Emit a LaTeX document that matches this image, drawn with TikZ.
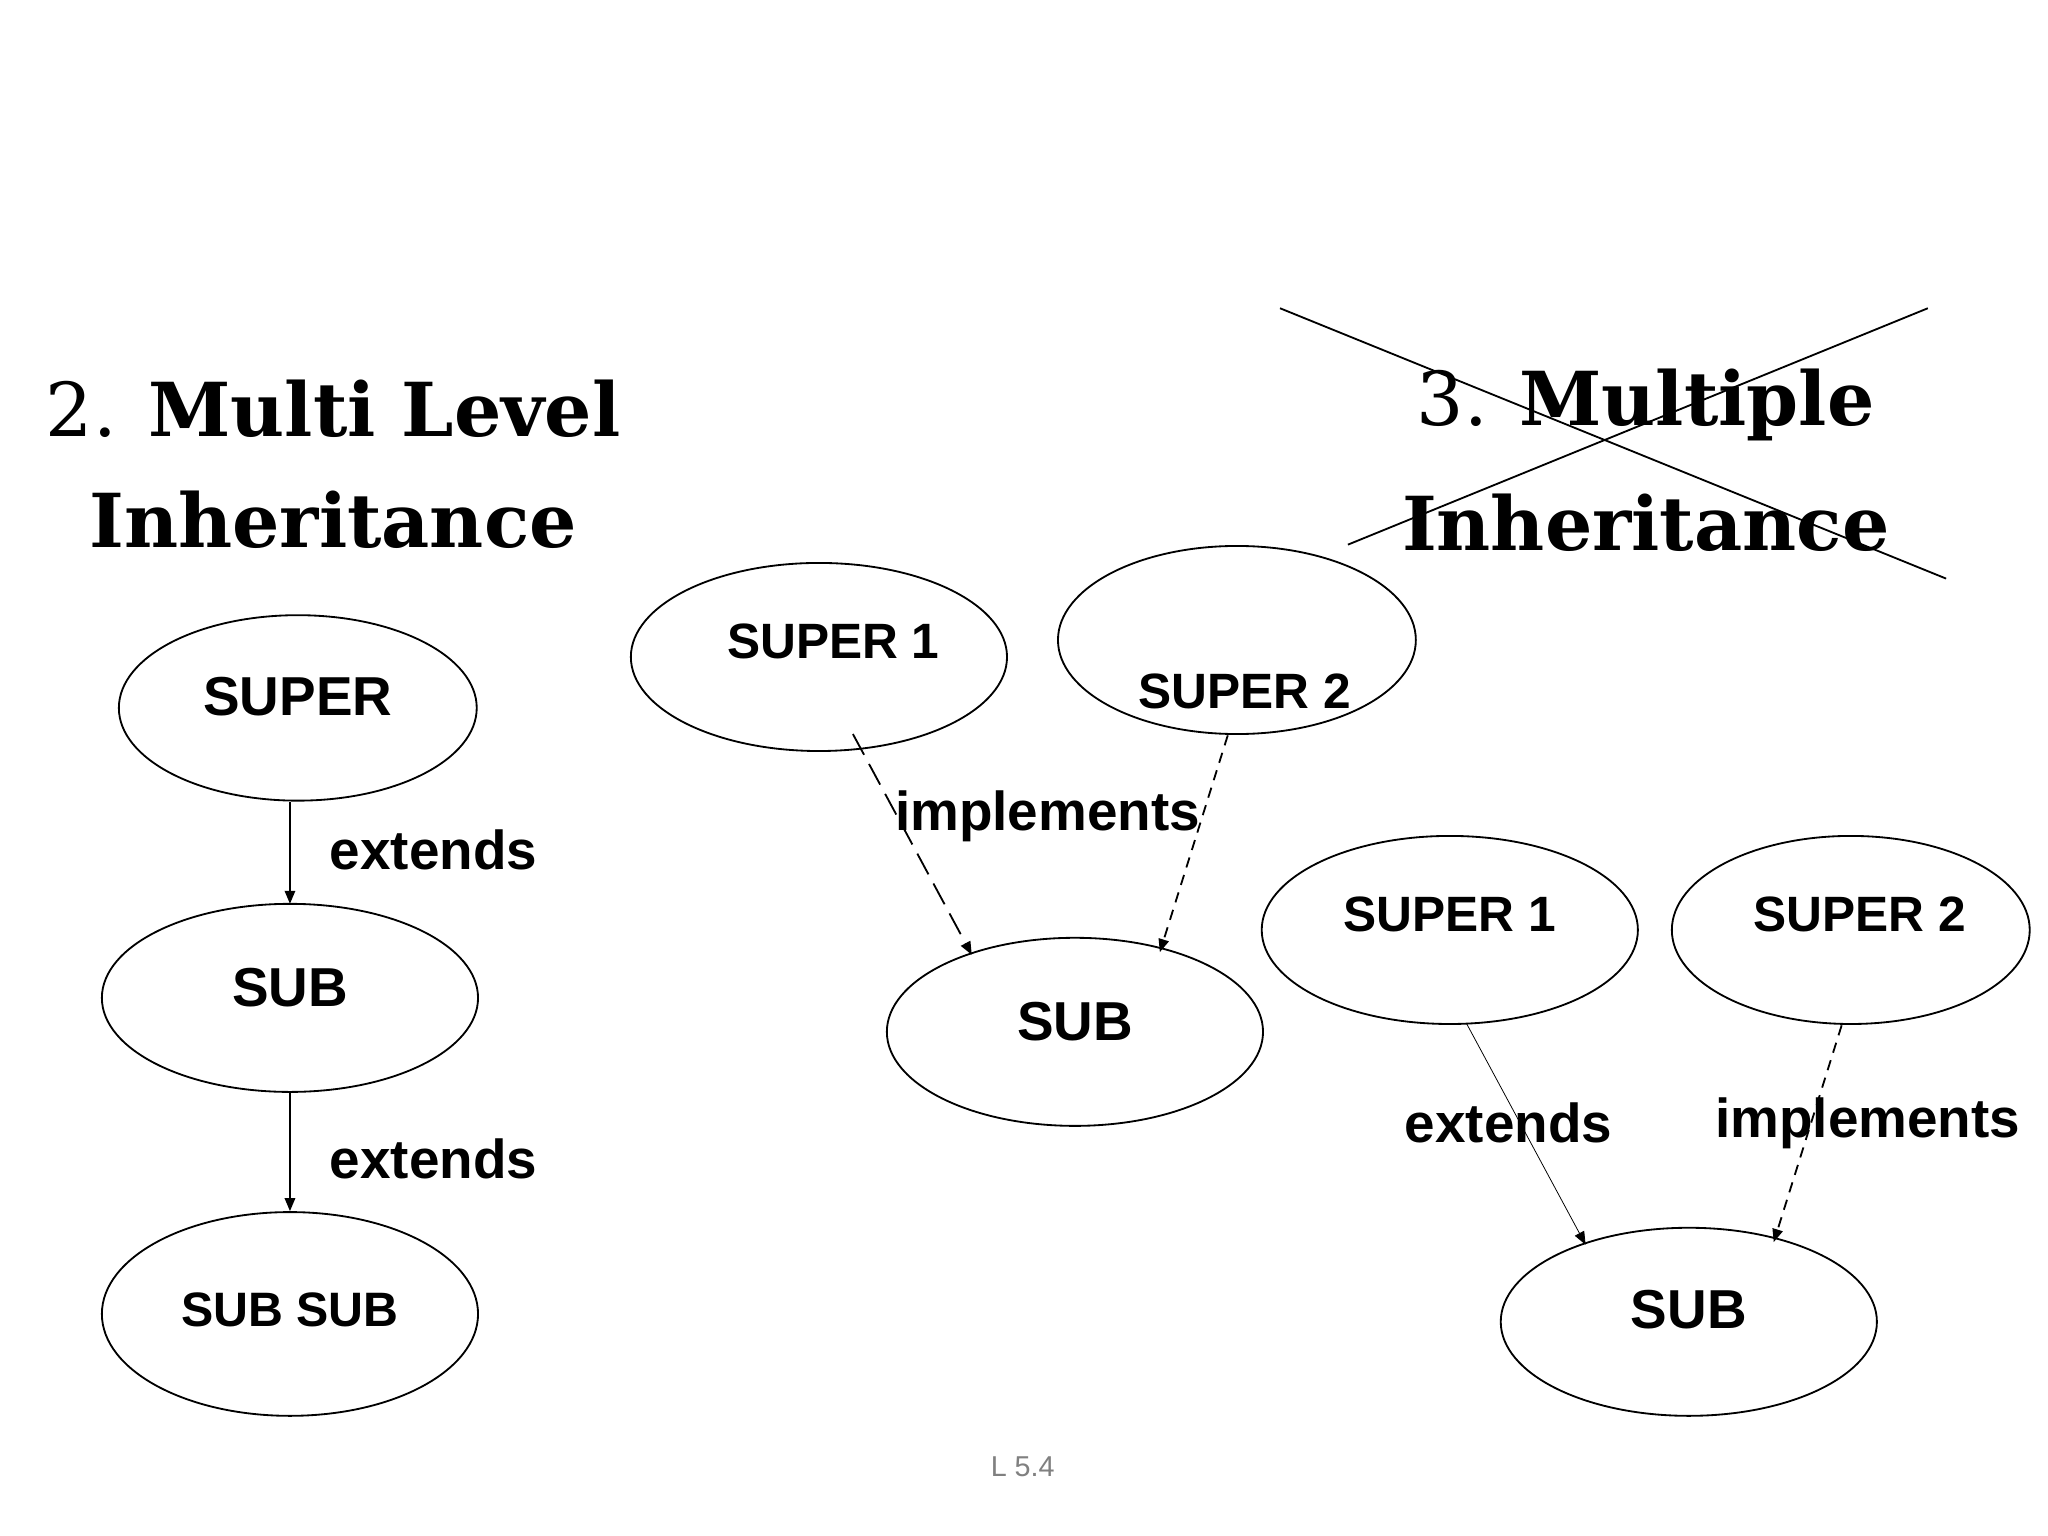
\documentclass[tikz,border=0pt]{standalone}
\usepackage{fontspec}
\setmainfont{Liberation Sans}
\newfontfamily\titlefont{DejaVu Serif}
\usetikzlibrary{shapes.geometric,arrows.meta}
\tikzset{
 ell/.style={draw,ellipse,inner sep=0pt,line width=0.7pt},
 lbl/.style={font=\fontsize{21}{24}\selectfont\bfseries},
 txt/.style={font=\fontsize{#1}{#1}\selectfont\bfseries},
 ttl/.style={font=\titlefont\fontsize{28.5}{40}\selectfont,align=center},
 arr/.style={-{Triangle[length=5pt,width=4pt]},line width=0.7pt}
}
\begin{document}
\begin{tikzpicture}[x=0.5pt,y=-0.5pt]
\useasboundingbox[fill=white] (0,0) rectangle (1568,1176);
% titles
\node[ttl] (t1) at (255,313) {2. \textbf{Multi Level}};
\node[ttl] (t1b) at (255,398) {\textbf{Inheritance}};
\node[ttl] (t2) at (1260,310) {3. \textbf{Multiple}};
\node[ttl] (t2b) at (1260,400) {\textbf{Inheritance}};
\coordinate (c1) at (980,236); \coordinate (c2) at (1490,443);
\coordinate (c3) at (1476,236); \coordinate (c4) at (1032,417);
\draw[line width=0.7pt] (c1) -- (c2); \draw[line width=0.7pt] (c3) -- (c4);
% left
\node[ell,minimum width=137pt,minimum height=71pt] (a1) at (228,542) {};
\node[ell,minimum width=144pt,minimum height=72pt] (a2) at (222,764) {};
\node[ell,minimum width=144pt,minimum height=78pt] (a3) at (222,1006) {};
\node[txt=21] (ta1) at (228,533) {SUPER};
\node[txt=21] (ta2) at (222,756) {SUB};
\node[txt=18.5] (ta3) at (222,1003) {SUB SUB};
\coordinate (s1) at (222,614); \coordinate (s2) at (222,692);
\draw[arr] (s1) -- (s2);
\draw[arr] (a2.south) -- (a3.north);
\node[lbl] (e1) at (332,651) {extends};
\node[lbl] (e2) at (332,887) {extends};
% middle
\node[ell,minimum width=144pt,minimum height=72pt] (b1) at (627,503) {};
\node[ell,minimum width=137pt,minimum height=72pt] (b2) at (947,490) {};
\node[ell,minimum width=144pt,minimum height=72pt] (b3) at (823,790) {};
\node[txt=19] (tb1) at (638,491) {SUPER 1};
\node[txt=19] (tb2) at (953,529) {SUPER 2};
\node[txt=21] (tb3) at (823,782) {SUB};
\coordinate (p1) at (653,562); \coordinate (p2) at (744,731);
\coordinate (p3) at (940,563); \coordinate (p4) at (888,729);
\draw[arr,dash pattern=on 9pt off 4pt] (p1) -- (p2);
\draw[arr,dash pattern=on 4pt off 3pt] (p3) -- (p4);
\node[lbl] (im1) at (802,625) {implements};
% right
\node[ell,minimum width=144pt,minimum height=72pt] (d1) at (1110,712) {};
\node[ell,minimum width=137pt,minimum height=72pt] (d2) at (1417,712) {};
\node[ell,minimum width=144pt,minimum height=72pt] (d3) at (1293,1012) {};
\node[txt=19] (td1) at (1110,700) {SUPER 1};
\node[txt=19] (td2) at (1424,700) {SUPER 2};
\node[txt=21] (td3) at (1293,1003) {SUB};
\coordinate (q1) at (1123,784); \coordinate (q2) at (1214,953);
\coordinate (q3) at (1410,785); \coordinate (q4) at (1358,951);
\draw[-{Triangle[length=5pt,width=4pt]},line width=0.3pt] (q1) -- (q2);
\draw[arr,dash pattern=on 4pt off 3pt] (q3) -- (q4);
\node[lbl] (e3) at (1155,860) {extends};
\node[lbl] (im2) at (1430,860) {implements};
\node[font=\fontsize{11}{12}\selectfont,text=gray] (pg) at (783,1123) {L 5.4};
\end{tikzpicture}
\end{document}
